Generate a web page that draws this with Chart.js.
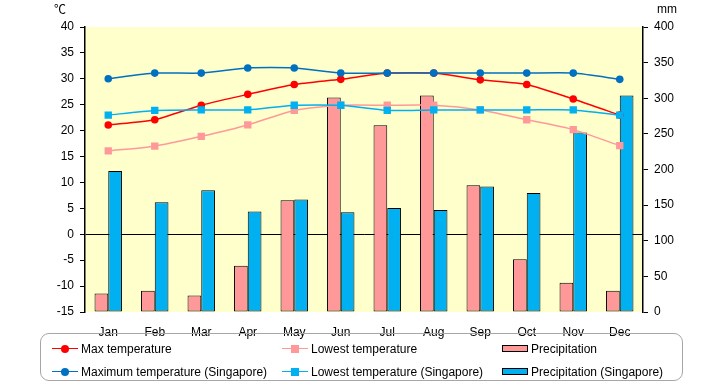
<!DOCTYPE html>
<html>
<head>
<meta charset="utf-8">
<script src="https://cdn.jsdelivr.net/npm/chart.js@4/dist/chart.umd.min.js"></script>
<style>
  body { margin: 0; background: #fff; font-family: "Liberation Sans", Arial, sans-serif; }
  #wrap { position: relative; width: 720px; height: 385px; }
  #myChart { position: absolute; left: 0; top: 0; }
  .unit { position: absolute; font-size: 12px; color: #000; }
  #legend {
    position: absolute; left: 40px; top: 333px; width: 643px; height: 48px;
    border: 1.5px solid #a6a6a6; border-radius: 9px; box-sizing: border-box;
    display: grid; grid-template-columns: 230px 220px 180px; grid-template-rows: 23px 23px;
    padding: 3px 0 0 11px; font-size: 12px; color: #000;
  }
  .item { display: flex; align-items: center; white-space: nowrap; }
  .mark { position: relative; width: 26px; height: 10px; margin-right: 3px; }
  .mark .ln { position: absolute; left: 0; right: 0; top: 4px; height: 1.5px; }
  .mark .dot { position: absolute; left: 9px; top: 1px; width: 8px; height: 8px; }
  .mark .bx { position: absolute; left: 0; top: 1px; width: 26px; height: 7px; border: 1.5px solid #000; box-sizing: border-box; }
</style>
</head>
<body>
<div id="wrap">
  <canvas id="myChart" width="720" height="385"></canvas>
  <div class="unit" style="left:54px; top:0px; font-family:'Noto Sans CJK JP', sans-serif;">℃</div>
  <div class="unit" style="left:657px; top:2px;">mm</div>
  <div id="legend"></div>
</div>
<script>
const months = ['Jan', 'Feb', 'Mar', 'Apr', 'May', 'Jun', 'Jul', 'Aug', 'Sep', 'Oct', 'Nov', 'Dec'];
const maxTemp = [21.1, 22.1, 24.9, 27.0, 28.9, 29.9, 31.1, 31.1, 29.8, 28.9, 26.1, 23.0];
const lowTemp = [16.1, 17.0, 18.9, 21.1, 23.9, 24.9, 24.9, 24.9, 24.0, 22.1, 20.2, 17.1];
const precip = [26, 30, 23, 65, 157, 301, 262, 304, 178, 74, 41, 30];
const sgMaxTemp = [30.0, 31.1, 31.1, 32.1, 32.1, 31.1, 31.1, 31.1, 31.1, 31.1, 31.1, 29.9];
const sgLowTemp = [23.0, 23.9, 24.0, 24.0, 24.9, 24.9, 23.9, 24.0, 24.0, 24.0, 24.0, 23.0];
const sgPrecip = [198, 154, 171, 141, 158, 140, 146, 143, 176, 167, 252, 304];

const tempTicks = { min: -15, max: 40, step: 5 };
const mmTicks = { min: 0, max: 400, step: 50 };

Chart.defaults.font.family = '"Liberation Sans", Arial, sans-serif';
Chart.defaults.font.size = 12;
Chart.defaults.color = '#000';

// yellow plot area
const plotBg = {
    id: 'plotBg',
    beforeDraw(chart) {
        const { ctx, chartArea: a } = chart;
        ctx.save();
        ctx.fillStyle = '#ffffcc';
        ctx.fillRect(a.left, a.top, a.right - a.left, a.bottom - a.top);
        ctx.restore();
    },
};

const lineSet = (label, data, color, style, r, order) => ({
    type: 'line',
    label: label,
    data: data,
    yAxisID: 'y',
    borderColor: color,
    backgroundColor: color,
    borderWidth: 1.5,
    pointStyle: style,
    pointRadius: r,
    pointBorderWidth: 0,
    tension: 0.2,
    order: order,
});

const barSet = (label, data, color) => ({
    type: 'bar',
    label: label,
    data: data,
    yAxisID: 'y1',
    backgroundColor: color,
    borderColor: '#000',
    borderWidth: 1,
    borderSkipped: false,
    barPercentage: 1.0,
    categoryPercentage: 0.59,
    order: 10,
});

const data = {
    labels: months,
    datasets: [
        lineSet('Max temperature', maxTemp, '#ff0000', 'circle', 3.8, 4),
        lineSet('Lowest temperature', lowTemp, '#ff9999', 'rect', 5.2, 3),
        barSet('Precipitation', precip, '#ff9999'),
        lineSet('Maximum temperature (Singapore)', sgMaxTemp, '#0070c0', 'circle', 3.8, 2),
        lineSet('Lowest temperature (Singapore)', sgLowTemp, '#00b0f0', 'rect', 5.2, 1),
        barSet('Precipitation (Singapore)', sgPrecip, '#00b0f0'),
    ],
};

const config = {
    data: data,
    plugins: [plotBg],
    options: {
        responsive: false,
        animation: false,
        layout: { padding: { top: 27, left: 0, right: 0, bottom: 0 } },
        plugins: {
            legend: { display: false },
            tooltip: { enabled: false },
        },
        scales: {
            x: {
                grid: { display: false },
                border: { display: false },
                ticks: { padding: 5, maxRotation: 0 },
                afterFit: (s) => { s.height = 73; },
            },
            y: {
                position: 'left',
                min: tempTicks.min,
                max: tempTicks.max,
                ticks: { stepSize: tempTicks.step, padding: 6 },
                grid: {
                    color: (c) => (c.tick && c.tick.value === 0 ? '#000' : 'rgba(0,0,0,0)'),
                    lineWidth: 1,
                    tickColor: '#000',
                    tickLength: 5,
                },
                border: { display: true, color: '#000', width: 1.5 },
                afterFit: (s) => { s.width = 85; },
            },
            y1: {
                position: 'right',
                min: mmTicks.min,
                max: mmTicks.max,
                ticks: { stepSize: mmTicks.step, padding: 6 },
                grid: {
                    drawOnChartArea: false,
                    tickColor: '#000',
                    tickLength: 5,
                },
                border: { display: true, color: '#000', width: 1.5 },
                afterFit: (s) => { s.width = 77; },
            },
        },
    },
};

const chart = new Chart(document.getElementById('myChart').getContext('2d'), config);

// legend laid out like the original: two rows, three columns
const legendEl = document.getElementById('legend');
chart.data.datasets.forEach((ds) => {
    const item = document.createElement('div');
    item.className = 'item';
    let mark;
    if (ds.type === 'bar') {
        mark = '<div class="mark"><div class="bx" style="background:' + ds.backgroundColor + '"></div></div>';
    } else {
        const round = ds.pointStyle === 'circle' ? 'border-radius:50%;' : '';
        mark = '<div class="mark"><div class="ln" style="background:' + ds.borderColor + '"></div>' +
            '<div class="dot" style="' + round + 'background:' + ds.borderColor + '"></div></div>';
    }
    item.innerHTML = mark + '<span>' + ds.label + '</span>';
    legendEl.appendChild(item);
});
</script>
</body>
</html>
